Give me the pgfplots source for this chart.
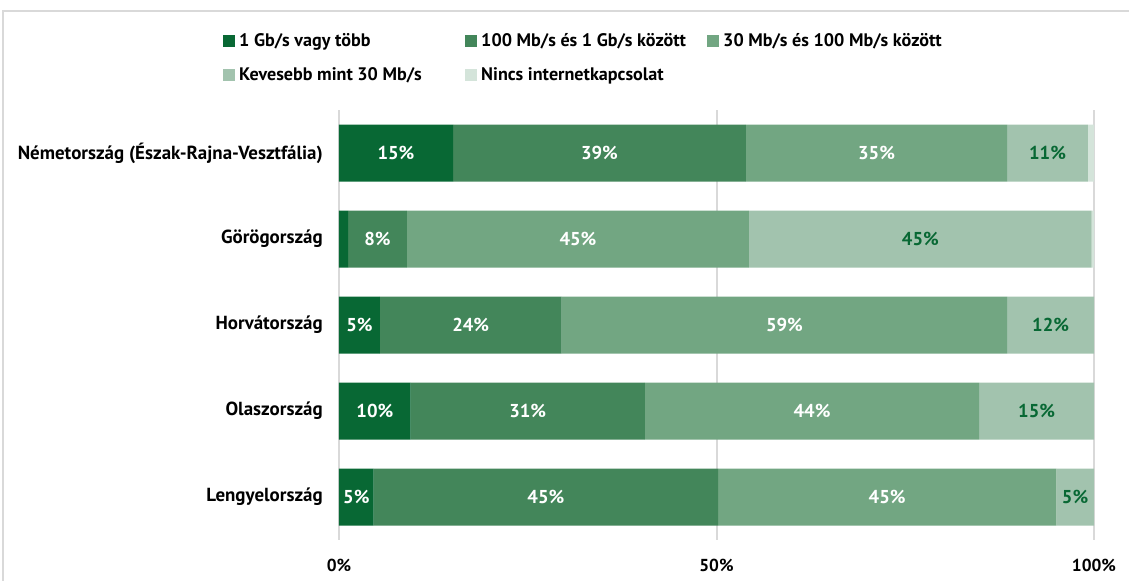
\documentclass[border=0pt]{standalone}
\usepackage{pgfplots}
\pgfplotsset{compat=1.18}
\usepackage{pgfplotstable}
\usepackage{fontspec}
\setmainfont{PT Sans}
\definecolor{cA}{RGB}{8,104,52}
\definecolor{cB}{RGB}{67,134,90}
\definecolor{cC}{RGB}{114,166,130}
\definecolor{cD}{RGB}{162,195,174}
\definecolor{cE}{RGB}{212,228,218}
\definecolor{frame}{RGB}{217,217,217}
\pgfplotstableread{
y a b c d e la lb lc ld
0 15.1 38.8 34.6 10.7 0.8 15\% 39\% 35\% 11\%
1 1.2 7.8 45.3 45.4 0.3 {} 8\% 45\% 45\%
2 5.4 24.1 59.0 11.5 0.0 5\% 24\% 59\% 12\%
3 9.5 31.0 44.3 15.2 0.0 10\% 31\% 44\% 15\%
4 4.6 45.6 44.8 5.0 0.0 5\% 45\% 45\% 5\%
}\data
\begin{document}
\begin{tikzpicture}[font=\fontsize{13}{15}\selectfont\bfseries]
\draw[color=frame, line width=0.8pt] (2.25pt,0) -- (2.25pt,427.5pt) -- (846.75pt,427.5pt);
\begin{axis}[
  at={(254.25pt,30.75pt)}, anchor=south west,
  scale only axis, width=566.25pt, height=322.5pt,
  xbar stacked, bar width=42.75pt,
  xmin=0, xmax=100, ymin=-0.5, ymax=4.5, y dir=reverse,
  xtick={0,50,100}, xticklabels={0\%,50\%,100\%},
  ytick={0,1,2,3,4},
  yticklabels={Németország (Észak-Rajna-Vesztfália),Görögország,Horvátország,Olaszország,Lengyelország},
  axis line style={draw=none}, tick style={draw=none}, major tick length=0pt,
  xmajorgrids, grid style={color=frame, line width=1.5pt},
  yticklabel style={inner xsep=0pt, xshift=-12pt, text=black, font=\fontsize{14.2}{16}\selectfont\bfseries},
  xticklabel style={inner ysep=0pt, yshift=-14pt, text=black},
  point meta=explicit symbolic,
  nodes near coords={\pgfplotspointmeta},
  every node near coord/.append style={anchor=center, font=\fontsize{14}{16}\selectfont\bfseries},
  legend columns=3,
  legend style={draw=none, at={(-0.159,1.185)}, anchor=north west,
    font=\fontsize{13.6}{15}\selectfont\bfseries,
    nodes={inner sep=0pt}, row sep=14pt,
    /tikz/every odd column/.append style={column sep=3pt}},
  legend image code/.code={\fill[#1] (0pt,-4.5pt) rectangle (9pt,4.5pt);},
]
\addplot[fill=cA, draw=none, nodes near coords style={text=white}] table[x=a, y=y, meta=la] {\data};
\addlegendentry{\makebox[169.5pt][l]{1 Gb/s vagy több}}
\addplot[fill=cB, draw=none, nodes near coords style={text=white}] table[x=b, y=y, meta=lb] {\data};
\addlegendentry{\makebox[169.5pt][l]{100 Mb/s és 1 Gb/s között}}
\addplot[fill=cC, draw=none, nodes near coords style={text=white}] table[x=c, y=y, meta=lc] {\data};
\addlegendentry{\makebox[169.5pt][l]{30 Mb/s és 100 Mb/s között}}
\addplot[fill=cD, draw=none, nodes near coords style={text=cA}] table[x=d, y=y, meta=ld] {\data};
\addlegendentry{\makebox[169.5pt][l]{Kevesebb mint 30 Mb/s}}
\addplot[fill=cE, draw=none, nodes near coords={}] table[x=e, y=y, meta=la] {\data};
\addlegendentry{\makebox[169.5pt][l]{Nincs internetkapcsolat}}
\end{axis}
\pgfresetboundingbox
\useasboundingbox (0,0) rectangle (846.75pt,435.75pt);
\end{tikzpicture}
\end{document}
